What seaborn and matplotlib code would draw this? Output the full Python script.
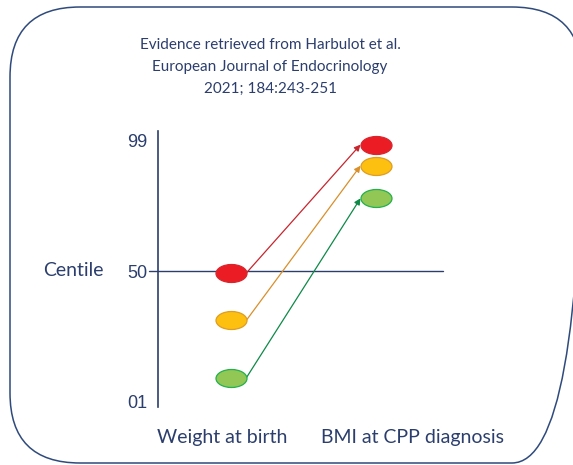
import numpy as np
import pandas as pd
import matplotlib
matplotlib.use("Agg")
import matplotlib.pyplot as plt
import seaborn as sns
from matplotlib.path import Path
from matplotlib.patches import FancyBboxPatch

# data
stages = ["Weight at birth", "BMI at CPP diagnosis"]
groups = ["high", "middle", "low"]
birth_centile = [49.3, 31.6, 10.1]
bmi_centile = [97.3, 89.4, 77.2]
tick_values = [1, 50, 99]
tick_labels = ["01", "50", "99"]
source_lines = ["Evidence retrieved from Harbulot et al.",
                "European Journal of Endocrinology",
                "2021; 184:243-251"]

fill_colors = ["#EC1C24", "#FDC010", "#92C755"]
edge_colors = ["#D8262C", "#DE9E22", "#22B14C"]
arrow_colors = ["#C8252D", "#D98F2B", "#0E8A47"]
navy = "#2B3E6D"

sns.set_style("white")
plt.rcParams["font.family"] = ["Lato", "DejaVu Sans"]

fig = plt.figure(figsize=(5.73, 4.65), dpi=100)

# rounded frame round the whole slide
bg = fig.add_axes([0, 0, 1, 1], zorder=0)
bg.set_xlim(0, 573)
bg.set_ylim(465, 0)
bg.axis("off")
bg.add_patch(FancyBboxPatch((10, 7), 572, 456,
                            boxstyle="round,pad=0,rounding_size=70",
                            fc="none", ec="#2F4A7C", lw=1.1))

ax = fig.add_axes([158 / 573, 58 / 465, 285 / 573, 276 / 465], zorder=1)
ax.set_facecolor("none")

df = pd.DataFrame({
    "pos": [0] * 3 + [1] * 3,
    "centile": birth_centile + bmi_centile,
    "group": groups + groups,
})

# ellipse shaped marker
circ = Path.unit_circle()
ellipse = Path(circ.vertices * np.array([1.0, 0.58]), circ.codes)
marker_w_px = 31

for g, fc, ec in zip(groups, fill_colors, edge_colors):
    sub = df[df["group"] == g]
    sns.scatterplot(data=sub, x="pos", y="centile", marker=ellipse,
                    s=(marker_w_px * 0.72) ** 2, color=fc, edgecolor=ec,
                    linewidth=0.9, ax=ax, zorder=3, legend=False)

ax.set_xlim(-0.503, 1.462)
ax.set_ylim(-0.9, 102.4)

# arrows from edge of birth ellipse to edge of BMI ellipse
fig.canvas.draw()
px_per_unit = ax.transData.transform((1, 0))[0] - ax.transData.transform((0, 0))[0]
hw = (marker_w_px / 2) / px_per_unit
for b, m, c in zip(birth_centile, bmi_centile, arrow_colors):
    ax.annotate("", xy=(1 - hw, m), xytext=(0 + hw, b),
                arrowprops=dict(arrowstyle="-|>", color=c, lw=0.9,
                                shrinkA=0, shrinkB=0, mutation_scale=9),
                zorder=2)

ax.axhline(50, xmin=-9 / 285, xmax=1, color=navy, lw=1.0, clip_on=False, zorder=1)

for side in ["top", "right", "bottom"]:
    ax.spines[side].set_visible(False)
ax.spines["left"].set_color(navy)
ax.spines["left"].set_linewidth(1.2)

ax.set_xticks([])
ax.set_yticks(tick_values)
ax.set_yticklabels(tick_labels, fontfamily="Liberation Sans")
ax.tick_params(axis="y", length=0, pad=7.5, labelsize=13, labelcolor=navy)
ax.set_xlabel("")
ax.set_ylabel("")

fig.text(73 / 573, 1 - 271 / 465, "Centile", ha="center", va="center",
         fontsize=14, color=navy)

fig.text(157 / 573, 1 - 437 / 465, stages[0], ha="left", va="center",
         fontsize=14, color=navy)
fig.text(321 / 573, 1 - 437 / 465, stages[1], ha="left", va="center",
         fontsize=14, color=navy)

for i, line in enumerate(source_lines):
    fig.text(270 / 573, 1 - (45 + 22 * i) / 465, line, ha="center",
             va="center", fontsize=11, color=navy)

fig.savefig("out.png", dpi=100)
